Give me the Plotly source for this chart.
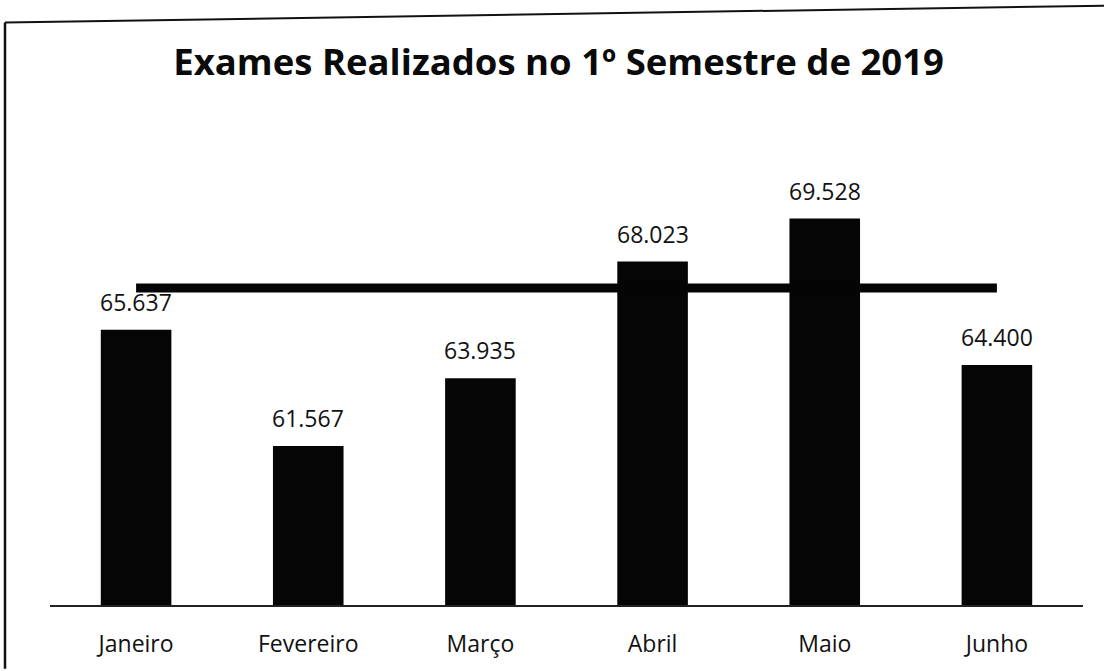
import plotly.graph_objects as go

# Dados do gráfico
meses = ['Janeiro', 'Fevereiro', 'Março', 'Abril', 'Maio', 'Junho']
exames = [65637, 61567, 63935, 68023, 69528, 64400]
rotulos = ['65.637', '61.567', '63.935', '68.023', '69.528', '64.400']
linha_ref = [67100, 67100, 67100, 67100, 67100, 67100]

fig = go.Figure()

# Barras
fig.add_trace(go.Bar(
    x=meses,
    y=exames,
    marker=dict(color='#050505', line=dict(width=0)),
    showlegend=False,
    hoverinfo='x+y'
))

# Linha de referência
fig.add_trace(go.Scatter(
    x=meses,
    y=linha_ref,
    mode='lines',
    line=dict(color='#050505', width=9),
    showlegend=False
))

# Rótulos de dados acima das barras
for m, v, t in zip(meses, exames, rotulos):
    fig.add_annotation(
        x=m, y=v, text=t, showarrow=False,
        yanchor='bottom', yshift=10,
        font=dict(family='Open Sans', size=23, color='#111111')
    )

# Moldura (scan levemente inclinado)
fig.add_shape(type='line', xref='paper', yref='paper',
              x0=-45 / 1033, y0=1 + 128 / 457, x1=1 + 21 / 1033, y1=1 + 145 / 457,
              line=dict(color='#111111', width=2))
fig.add_shape(type='line', xref='paper', yref='paper',
              x0=-45 / 1033, y0=1 + 128 / 457, x1=-45 / 1033, y1=-64 / 457,
              line=dict(color='#111111', width=2.5))

fig.update_layout(
    width=1104,
    height=671,
    margin=dict(l=50, r=21, t=150, b=64),
    paper_bgcolor='white',
    plot_bgcolor='white',
    bargap=0.59,
    title=dict(
        text='<b>Exames Realizados no 1º Semestre de 2019</b>',
        x=0.506, xanchor='center',
        y=1 - 62 / 671, yanchor='middle',
        font=dict(family='Open Sans', size=36.5, color='#0a0a0a')
    ),
    font=dict(family='Open Sans', color='#111111'),
    xaxis=dict(
        showline=True, linecolor='#222222', linewidth=1.5,
        showgrid=False, ticks='', ticklabelstandoff=18,
        tickfont=dict(family='Open Sans', size=23, color='#111111')
    ),
    yaxis=dict(
        range=[56000, 71930], visible=False, showgrid=False
    )
)

fig.write_html("out.html", config={'displayModeBar': False},
               post_script="document.body.style.margin='0';")
